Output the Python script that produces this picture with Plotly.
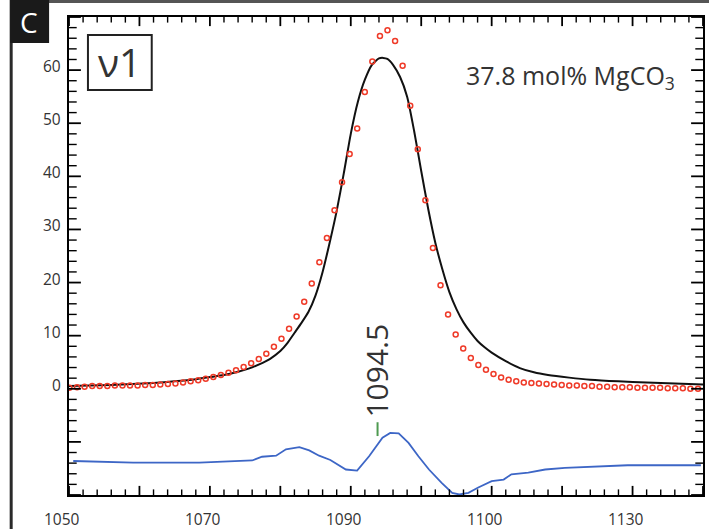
import plotly.graph_objects as go

# ---------------- data ----------------
black_x = [1050, 1053, 1056, 1059, 1062, 1065, 1068, 1070, 1072, 1074, 1075.5, 1077, 1078.5,
           1080, 1081, 1082, 1083, 1084, 1085, 1086, 1087, 1088, 1089, 1090, 1091, 1092, 1093,
           1094, 1094.6, 1095.2, 1096, 1097, 1098, 1099, 1100, 1101, 1102, 1103, 1104, 1105,
           1106, 1107, 1108, 1109, 1110, 1112, 1114, 1116, 1118, 1121, 1124, 1128, 1132, 1136, 1140]
black_y = [0.5, 0.6, 0.7, 0.9, 1.1, 1.4, 1.8, 2.2, 2.6, 3.2, 3.8, 4.6, 5.6,
           7.1, 8.6, 10.5, 12.4, 14.5, 17.6, 22.0, 27.5, 33.5, 40.5, 48.0, 54.0, 58.2, 61.0,
           62.2, 62.3, 62.1, 61.0, 58.7, 55.0, 48.5, 41.0, 33.8, 27.5, 22.5, 18.2, 15.0,
           12.5, 10.6, 9.0, 7.8, 6.8, 5.2, 3.9, 3.1, 2.6, 2.1, 1.7, 1.4, 1.2, 1.0, 0.8]

red_x = [1050.06, 1051.14, 1052.21, 1053.29, 1054.36, 1055.44, 1056.51, 1057.59, 1058.66, 1059.74,
         1060.81, 1061.89, 1062.96, 1064.04, 1065.11, 1066.19, 1067.26, 1068.34, 1069.41, 1070.49,
         1071.56, 1072.64, 1073.71, 1074.79, 1075.86, 1076.94, 1078.01, 1079.09, 1080.16, 1081.24,
         1082.31, 1083.39, 1084.46, 1085.54, 1086.61, 1087.69, 1088.76, 1089.84, 1090.91, 1091.99,
         1093.06, 1094.14, 1095.21, 1096.29, 1097.36, 1098.44, 1099.51, 1100.59, 1101.66, 1102.74,
         1103.81, 1104.89, 1105.96, 1107.04, 1108.11, 1109.19, 1110.26, 1111.34, 1112.41, 1113.49,
         1114.56, 1115.64, 1116.71, 1117.79, 1118.86, 1119.94, 1121.01, 1122.09, 1123.16, 1124.24,
         1125.31, 1126.39, 1127.46, 1128.54, 1129.61, 1130.69, 1131.76, 1132.84, 1133.91, 1134.99,
         1136.06, 1137.14, 1138.21, 1139.29]
red_y = [0.2, 0.3, 0.4, 0.5, 0.5, 0.5, 0.6, 0.6, 0.6, 0.6,
         0.7, 0.7, 0.8, 0.9, 1.0, 1.2, 1.4, 1.6, 1.9, 2.2,
         2.6, 3.0, 3.5, 4.1, 4.8, 5.6, 6.6, 7.9, 9.4, 11.3,
         13.6, 16.4, 19.8, 23.8, 28.4, 33.6, 38.9, 44.2, 49.0, 55.9,
         61.6, 66.4, 67.5, 65.5, 60.8, 53.3, 45.1, 35.5, 26.5, 19.5,
         14.0, 10.2, 7.6, 5.8, 4.5, 3.6, 2.8, 2.1, 1.7, 1.4,
         1.2, 1.1, 1.0, 0.9, 0.8, 0.7, 0.6, 0.6, 0.5, 0.5,
         0.4, 0.4, 0.3, 0.3, 0.3, 0.2, 0.2, 0.2, 0.2, 0.1,
         0.1, 0.1, 0.0, 0.0]

blue_x = [1050.6, 1059.1, 1068.5, 1073.2, 1076.0, 1077.4, 1079.4, 1080.8, 1082.2, 1082.7,
          1084.1, 1085.5, 1087.1, 1089.3, 1090.9, 1092.6, 1094.5, 1095.6, 1096.8, 1098.2,
          1099.6, 1101.1, 1102.9, 1104.4, 1105.4, 1106.7, 1108.1, 1110.0, 1111.7, 1112.8,
          1115.2, 1117.6, 1120.4, 1124.6, 1129.3, 1133.6, 1139.7]
blue_y = [-13.6, -13.9, -13.9, -13.6, -13.5, -12.8, -12.6, -11.4, -11.1, -11.0,
          -11.6, -12.6, -13.4, -15.2, -15.4, -12.7, -9.2, -8.3, -8.4, -10.2,
          -12.7, -15.2, -17.7, -19.6, -19.9, -19.6, -18.6, -17.4, -17.1, -16.1,
          -15.8, -15.2, -14.9, -14.6, -14.4, -14.4, -14.4]

x_label_vals = [1050, 1070, 1090, 1110, 1130]
x_label_text = ["1050", "1070", "1090", "1100", "1130"]
y_label_vals = [0, 10, 20, 30, 40, 50, 60]
y_label_text = ["0", "10", "20", "30", "40", "50", "60"]

peak_label = "1094.5"
peak_label_x = 1093.7
peak_label_y = 3.4
peak_mark_x = [1093.8, 1093.8]
peak_mark_y = [-6.3, -8.9]

panel_label = "C"
band_label = "ν1"
comp_label = "37.8 mol% MgCO<sub>3</sub>"

FONT = "Open Sans"
TXT = "#333333"
XR = [1050, 1140]
YR = [-20, 70]
X_MAJOR, X_MINOR = 10, 2
Y_MAJOR, Y_MINOR = 10, 2

fig = go.Figure()
fig.add_trace(go.Scatter(x=black_x, y=black_y, mode="lines",
                         line=dict(color="#111111", width=2, shape="spline", smoothing=0.6),
                         hoverinfo="skip"))
fig.add_trace(go.Scatter(x=blue_x, y=blue_y, mode="lines",
                         line=dict(color="#3d66c6", width=1.8), hoverinfo="skip"))
fig.add_trace(go.Scatter(x=red_x, y=red_y, mode="markers",
                         marker=dict(symbol="circle-open", size=5, color="#ef3a28",
                                     line=dict(width=1.5, color="#ef3a28")),
                         hoverinfo="skip"))
fig.add_trace(go.Scatter(x=peak_mark_x, y=peak_mark_y, mode="lines",
                         line=dict(color="#4e9a50", width=2), hoverinfo="skip"))

# tick marks: line markers centred on the frame, half clipped away -> inside ticks
xt_major = [v for v in range(XR[0], XR[1] + 1, X_MINOR) if (v - XR[0]) % X_MAJOR == 0]
xt_minor = [v for v in range(XR[0], XR[1] + 1, X_MINOR) if (v - XR[0]) % X_MAJOR != 0]
yt_major = [v for v in range(YR[0], YR[1] + 1, Y_MINOR) if (v - YR[0]) % Y_MAJOR == 0]
yt_minor = [v for v in range(YR[0], YR[1] + 1, Y_MINOR) if (v - YR[0]) % Y_MAJOR != 0]


def tick_trace(xs, ys, symbol, size, width):
    return go.Scatter(x=xs, y=ys, mode="markers", cliponaxis=True, hoverinfo="skip",
                      marker=dict(symbol=symbol, size=size, color="black",
                                  line=dict(color="black", width=width)))


for edge in YR:
    fig.add_trace(tick_trace(xt_major, [edge] * len(xt_major), "line-ns", 13, 1.8))
    fig.add_trace(tick_trace(xt_minor, [edge] * len(xt_minor), "line-ns", 8, 1.4))
for edge in XR:
    fig.add_trace(tick_trace([edge] * len(yt_major), yt_major, "line-ew", 17, 1.8))
    fig.add_trace(tick_trace([edge] * len(yt_minor), yt_minor, "line-ew", 11, 1.4))

ax = dict(showticklabels=False, ticks="", showline=True, linecolor="black", linewidth=2,
          mirror=True, showgrid=False, zeroline=False, fixedrange=True)
fig.update_layout(xaxis=dict(range=XR, **ax), yaxis=dict(range=YR, **ax))

shapes = [
    dict(type="line", xref="paper", yref="paper", x0=-0.0912, x1=-0.0912, y0=1.04, y1=-0.08,
         line=dict(color="#2a2a2a", width=3)),
    dict(type="line", xref="paper", yref="paper", x0=-0.0912, x1=1.01, y0=1.0324, y1=1.0324,
         line=dict(color="#555555", width=3)),
    dict(type="rect", xref="paper", yref="paper", x0=-0.0928, x1=-0.0314, y0=0.9456, y1=1.04,
         fillcolor="#1a1a1a", line=dict(width=0)),
    dict(type="rect", xref="paper", yref="paper", x0=0.0299, x1=0.1305, y0=0.8473, y1=0.9623,
         fillcolor="white", line=dict(color="#222222", width=2)),
]

annotations = []
for v, t in zip(x_label_vals, x_label_text):
    annotations.append(dict(text=t, xref="x", yref="paper", x=v, y=0, yshift=-24, xshift=-7,
                            showarrow=False, xanchor="center", yanchor="middle",
                            font=dict(family=FONT, size=15.5, color=TXT)))
for v, t in zip(y_label_vals, y_label_text):
    annotations.append(dict(text=t, xref="paper", yref="y", x=0, y=v, xshift=-6, yshift=4,
                            showarrow=False, xanchor="right", yanchor="middle",
                            font=dict(family=FONT, size=15.5, color=TXT)))
annotations += [
    dict(text=panel_label, xref="paper", yref="paper", x=-0.0629, y=0.9895, showarrow=False,
         font=dict(family=FONT, size=28, color="white"), xanchor="center", yanchor="middle"),
    dict(text=band_label, xref="paper", yref="paper", x=0.0802, y=0.9059, showarrow=False,
         font=dict(family=FONT, size=39, color=TXT), xanchor="center", yanchor="middle"),
    dict(text=comp_label, xref="paper", yref="paper", x=0.791, y=0.875, showarrow=False,
         font=dict(family=FONT, size=25, color=TXT), xanchor="center", yanchor="middle"),
    dict(text=peak_label, xref="x", yref="y", x=peak_label_x, y=peak_label_y, showarrow=False,
         textangle=-90, font=dict(family=FONT, size=30, color=TXT),
         xanchor="center", yanchor="middle"),
]

fig.update_layout(width=709, height=529, margin=dict(l=69, r=4, t=17, b=34),
                  paper_bgcolor="white", plot_bgcolor="white", showlegend=False,
                  shapes=shapes, annotations=annotations)

fig.write_html("out.html")
